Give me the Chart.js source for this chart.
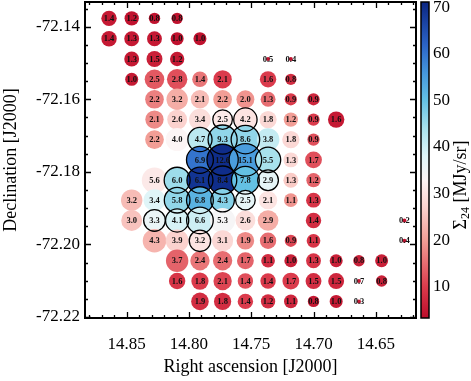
<!DOCTYPE html>
<html><head><meta charset="utf-8">
<script src="https://cdn.jsdelivr.net/npm/chart.js@4/dist/chart.umd.min.js"></script>
<style>html,body{margin:0;padding:0;background:#fff}canvas{display:block}</style>
</head><body>
<canvas id="c" width="471" height="381"></canvas>
<script>
// ---- data ----
const raColumns = [14.8642, 14.8460, 14.8277, 14.8095, 14.7912, 14.7730, 14.7547, 14.7365, 14.7182, 14.7000, 14.6818, 14.6635, 14.6453, 14.6270];
const decRows = [-72.1377, -72.1433, -72.1489, -72.1545, -72.1600, -72.1656, -72.1711, -72.1767, -72.1823, -72.1878, -72.1934, -72.1990, -72.2045, -72.2101, -72.2157];
const _ = null;
// value printed on each bubble (row = declination, column = right ascension)
const fluxLabels = [
  [1.4,1.2,0.8,0.8,_,_,_,_,_,_,_,_,_,_],
  [1.4,1.3,1.3,1.0,1.0,_,_,_,_,_,_,_,_,_],
  [_,1.3,1.5,1.2,_,_,_,0.5,0.4,_,_,_,_,_],
  [_,1.0,2.5,2.8,1.4,2.1,_,1.6,0.8,_,_,_,_,_],
  [_,_,2.2,3.2,2.1,2.2,2.0,1.3,0.9,0.9,_,_,_,_],
  [_,_,2.1,2.6,3.4,2.5,4.2,1.8,1.2,0.9,1.6,_,_,_],
  [_,_,2.2,4.0,4.7,9.3,8.6,3.8,1.8,0.9,_,_,_,_],
  [_,_,_,_,6.9,12.6,15.1,5.5,1.3,1.7,_,_,_,_],
  [_,_,5.6,6.0,6.1,8.4,7.8,2.9,1.3,1.2,_,_,_,_],
  [_,3.2,3.4,5.8,6.8,4.3,2.5,2.1,1.1,1.3,_,_,_,_],
  [_,3.0,3.3,4.1,6.6,5.3,2.6,2.9,_,1.4,_,_,_,0.2],
  [_,_,4.3,3.9,3.2,3.1,1.9,1.6,0.9,1.1,_,_,_,0.4],
  [_,_,_,3.7,2.4,2.4,1.7,1.1,1.0,1.3,1.0,0.8,1.0,_],
  [_,_,_,1.6,1.8,2.1,1.4,1.4,1.7,1.5,1.5,0.7,0.8,_],
  [_,_,_,_,1.9,1.8,1.4,1.2,1.1,0.8,1.0,0.3,_,_]
];
// Sigma_24 [MJy/sr] (colour of each bubble)
const sigma24 = [
  [5,4,4,4,_,_,_,_,_,_,_,_,_,_],
  [5,5,5,4,4,_,_,_,_,_,_,_,_,_],
  [_,5,6,5,_,_,_,4,4,_,_,_,_,_],
  [_,5,13,12,16,10,_,10,8,_,_,_,_,_],
  [_,_,17,22,24,20,19,15,10,7,_,_,_,_],
  [_,_,18,27,29,31,30,28,20,10,5,_,_,_],
  [_,_,20,33,42,46,46,41,28,12,_,_,_,_],
  [_,_,_,_,60,70,55,44,28,12,_,_,_,_],
  [_,_,31,45,69,70,50,37,26,14,_,_,_,_],
  [_,24,38,46,52,47,37,30,19,9,_,_,_,_],
  [_,25,36,39,40,34,29,22,_,8,_,_,_,4],
  [_,_,23,27,30,28,18,15,11,9,_,_,_,4],
  [_,_,_,14,16,15,14,8,6,9,6,6,6,_],
  [_,_,_,9,10,11,12,10,10,8,7,5,6,_],
  [_,_,_,_,8,8,10,8,7,5,5,5,_,_]
];
// 1 = position circled in black
const outlined = [
  [0,0,0,0,0,0,0,0,0,0,0,0,0,0],
  [0,0,0,0,0,0,0,0,0,0,0,0,0,0],
  [0,0,0,0,0,0,0,0,0,0,0,0,0,0],
  [0,0,0,0,0,0,0,0,0,0,0,0,0,0],
  [0,0,0,0,0,0,0,0,0,0,0,0,0,0],
  [0,0,0,0,0,1,1,0,0,0,0,0,0,0],
  [0,0,0,0,1,1,1,0,0,0,0,0,0,0],
  [0,0,0,0,1,1,1,1,0,0,0,0,0,0],
  [0,0,0,1,1,1,1,1,0,0,0,0,0,0],
  [0,0,0,1,1,1,1,0,0,0,0,0,0,0],
  [0,0,1,1,1,0,0,0,0,0,0,0,0,0],
  [0,0,0,0,1,0,0,0,0,0,0,0,0,0],
  [0,0,0,0,0,0,0,0,0,0,0,0,0,0],
  [0,0,0,0,0,0,0,0,0,0,0,0,0,0],
  [0,0,0,0,0,0,0,0,0,0,0,0,0,0]
];
const raTicks = [14.85, 14.80, 14.75, 14.70, 14.65];
const decTicks = [-72.14, -72.16, -72.18, -72.20, -72.22];
const cbarTicks = [10, 20, 30, 40, 50, 60, 70];

// ---- styling helpers ----
const SERIF = "'Liberation Serif','DejaVu Serif',serif";
const cmapStops = [[3.3,'#bd0d2b'],[10,'#db3b4c'],[20,'#f29e96'],[27,'#fbd2ce'],[33,'#fcf5f5'],[38,'#e0f5f8'],[44,'#a8e1ec'],[50,'#64c1e4'],[56,'#4596dc'],[62,'#2b63c6'],[71.1,'#0b2682']];
function hex2rgb(h){return [parseInt(h.slice(1,3),16),parseInt(h.slice(3,5),16),parseInt(h.slice(5,7),16)];}
function cmap(v){
  if (v <= cmapStops[0][0]) return cmapStops[0][1];
  for (let i=1;i<cmapStops.length;i++){
    if (v <= cmapStops[i][0]){
      const [a,ca]=cmapStops[i-1],[b,cb]=cmapStops[i];
      const t=(v-a)/(b-a), A=hex2rgb(ca), B=hex2rgb(cb);
      return 'rgb('+A.map((x,j)=>Math.round(x+(B[j]-x)*t)).join(',')+')';
    }
  }
  return cmapStops[cmapStops.length-1][1];
}
function radiusOf(v){ return v < 0.75 ? 2 : 6.5 + 2.5*Math.log2(v); }

const fillPts=[], ringPts=[];
fluxLabels.forEach((row,i)=>row.forEach((v,k)=>{
  if (v==null) return;
  const p={x:raColumns[k], y:decRows[i], r:radiusOf(v), v:v, s:sigma24[i][k]};
  fillPts.push(p);
  if (outlined[i][k]) ringPts.push(p);
}));

const CB_MIN=3.3, CB_MAX=71.1;

function noPad(size){
  return s=>{
    if (size.h) s.height=size.h;
    if (size.w) s.width=size.w;
    s.paddingTop=0; s.paddingBottom=0; s.paddingLeft=0; s.paddingRight=0;
  };
}

const decorPlugin = {
  id:'decor',
  afterDatasetsDraw(chart){
    const ctx=chart.ctx, ca=chart.chartArea, xs=chart.scales.x, ys=chart.scales.y;
    // labels on bubbles
    const meta=chart.getDatasetMeta(1);
    ctx.save();
    ctx.font="bold 8.5px "+SERIF;
    ctx.fillStyle='#111';
    ctx.textAlign='center'; ctx.textBaseline='middle';
    meta.data.forEach((el,i)=>{ ctx.fillText(fillPts[i].v.toFixed(1), el.x, el.y+0.5); });
    ctx.restore();
    // frame and ticks
    ctx.save();
    ctx.strokeStyle='#000';
    ctx.lineWidth=1.3;
    ctx.beginPath();
    for (let i=Math.ceil(14.618/0.01); i<=Math.floor(14.883/0.01); i++){
      const v=i*0.01, px=Math.round(xs.getPixelForValue(v))+0.5;
      const L = (i%5===0)?6:3;
      ctx.moveTo(px,ca.bottom); ctx.lineTo(px,ca.bottom-L);
      ctx.moveTo(px,ca.top); ctx.lineTo(px,ca.top+L);
    }
    for (let i=Math.ceil(72.1335/0.005); i<=Math.floor(72.2202/0.005); i++){
      const v=-i*0.005, py=Math.round(ys.getPixelForValue(v))+0.5;
      const L = (i%4===0)?6:3;
      ctx.moveTo(ca.left,py); ctx.lineTo(ca.left+L,py);
      ctx.moveTo(ca.right,py); ctx.lineTo(ca.right-L,py);
    }
    ctx.stroke();
    ctx.lineWidth=2;
    ctx.strokeRect(ca.left,ca.top,ca.right-ca.left,ca.bottom-ca.top);
    ctx.restore();
  },
  afterDraw(chart){
    const ctx=chart.ctx, ca=chart.chartArea, cb=chart.scales.cb;
    const x0=ca.right+5, w=8;
    const yTop=cb.getPixelForValue(CB_MAX), yBot=cb.getPixelForValue(CB_MIN);
    const g=ctx.createLinearGradient(0,yBot,0,yTop);
    cmapStops.forEach(([v,c])=>g.addColorStop((v-CB_MIN)/(CB_MAX-CB_MIN),c));
    ctx.save();
    ctx.fillStyle=g;
    ctx.fillRect(x0,yTop,w,yBot-yTop);
    ctx.strokeStyle='#000'; ctx.lineWidth=1.5;
    ctx.strokeRect(x0,yTop,w,yBot-yTop);
    // colorbar title
    ctx.translate(461,185);
    ctx.rotate(-Math.PI/2);
    ctx.fillStyle='#000';
    ctx.textBaseline='middle'; ctx.textAlign='left';
    const big="18px "+SERIF, small="12px "+SERIF;
    ctx.font=big; const w1=ctx.measureText('\u03A3').width, w3=ctx.measureText(' [MJy/sr]').width;
    ctx.font=small; const w2=ctx.measureText('24').width;
    let sx=-(w1+w2+w3)/2;
    ctx.font=big; ctx.fillText('\u03A3',sx,0); sx+=w1;
    ctx.font=small; ctx.fillText('24',sx,5); sx+=w2;
    ctx.font=big; ctx.fillText(' [MJy/sr]',sx,0);
    ctx.restore();
  }
};

new Chart(document.getElementById('c'), {
  type:'bubble',
  data:{datasets:[
    {label:'rings', data:ringPts, backgroundColor:'rgba(0,0,0,0)', borderColor:'#000', borderWidth:1.3, order:0},
    {label:'flux', data:fillPts, backgroundColor:fillPts.map(p=>cmap(p.s)), borderWidth:0, order:1}
  ]},
  options:{
    responsive:false, animation:false, devicePixelRatio:1,
    layout:{autoPadding:false, padding:{top:2,left:0,right:0,bottom:0}},
    plugins:{legend:{display:false}, tooltip:{enabled:false}},
    events:[],
    scales:{
      x:{type:'linear', position:'bottom', reverse:true, min:14.6177, max:14.8835,
        afterBuildTicks:s=>{s.ticks=raTicks.map(v=>({value:v}));},
        afterFit:noPad({h:63}),
        grid:{display:false, drawTicks:false}, border:{display:false},
        ticks:{padding:16, maxRotation:0, autoSkip:false, color:'#000', font:{family:SERIF,size:17}, callback:v=>Number(v).toFixed(2)},
        title:{display:true, text:'Right ascension [J2000]', color:'#000', font:{family:SERIF,size:18}, padding:{top:0,bottom:3}}
      },
      y:{type:'linear', position:'left', min:-72.22028, max:-72.13319,
        afterBuildTicks:s=>{s.ticks=decTicks.map(v=>({value:v}));},
        afterFit:noPad({w:85}),
        grid:{display:false, drawTicks:false}, border:{display:false},
        ticks:{padding:5, autoSkip:false, color:'#000', font:{family:SERIF,size:17}, callback:v=>Number(v).toFixed(2)},
        title:{display:true, text:'Declination [J2000]', color:'#000', font:{family:SERIF,size:18}, padding:{top:0,bottom:0}}
      },
      cb:{type:'linear', axis:'y', position:'right', min:CB_MIN, max:CB_MAX,
        afterBuildTicks:s=>{s.ticks=cbarTicks.map(v=>({value:v}));},
        afterFit:noPad({w:55}),
        grid:{display:false, drawTicks:false}, border:{display:false},
        ticks:{padding:17, autoSkip:false, color:'#000', font:{family:SERIF,size:17}}
      }
    }
  },
  plugins:[decorPlugin]
});
</script>
</body></html>
